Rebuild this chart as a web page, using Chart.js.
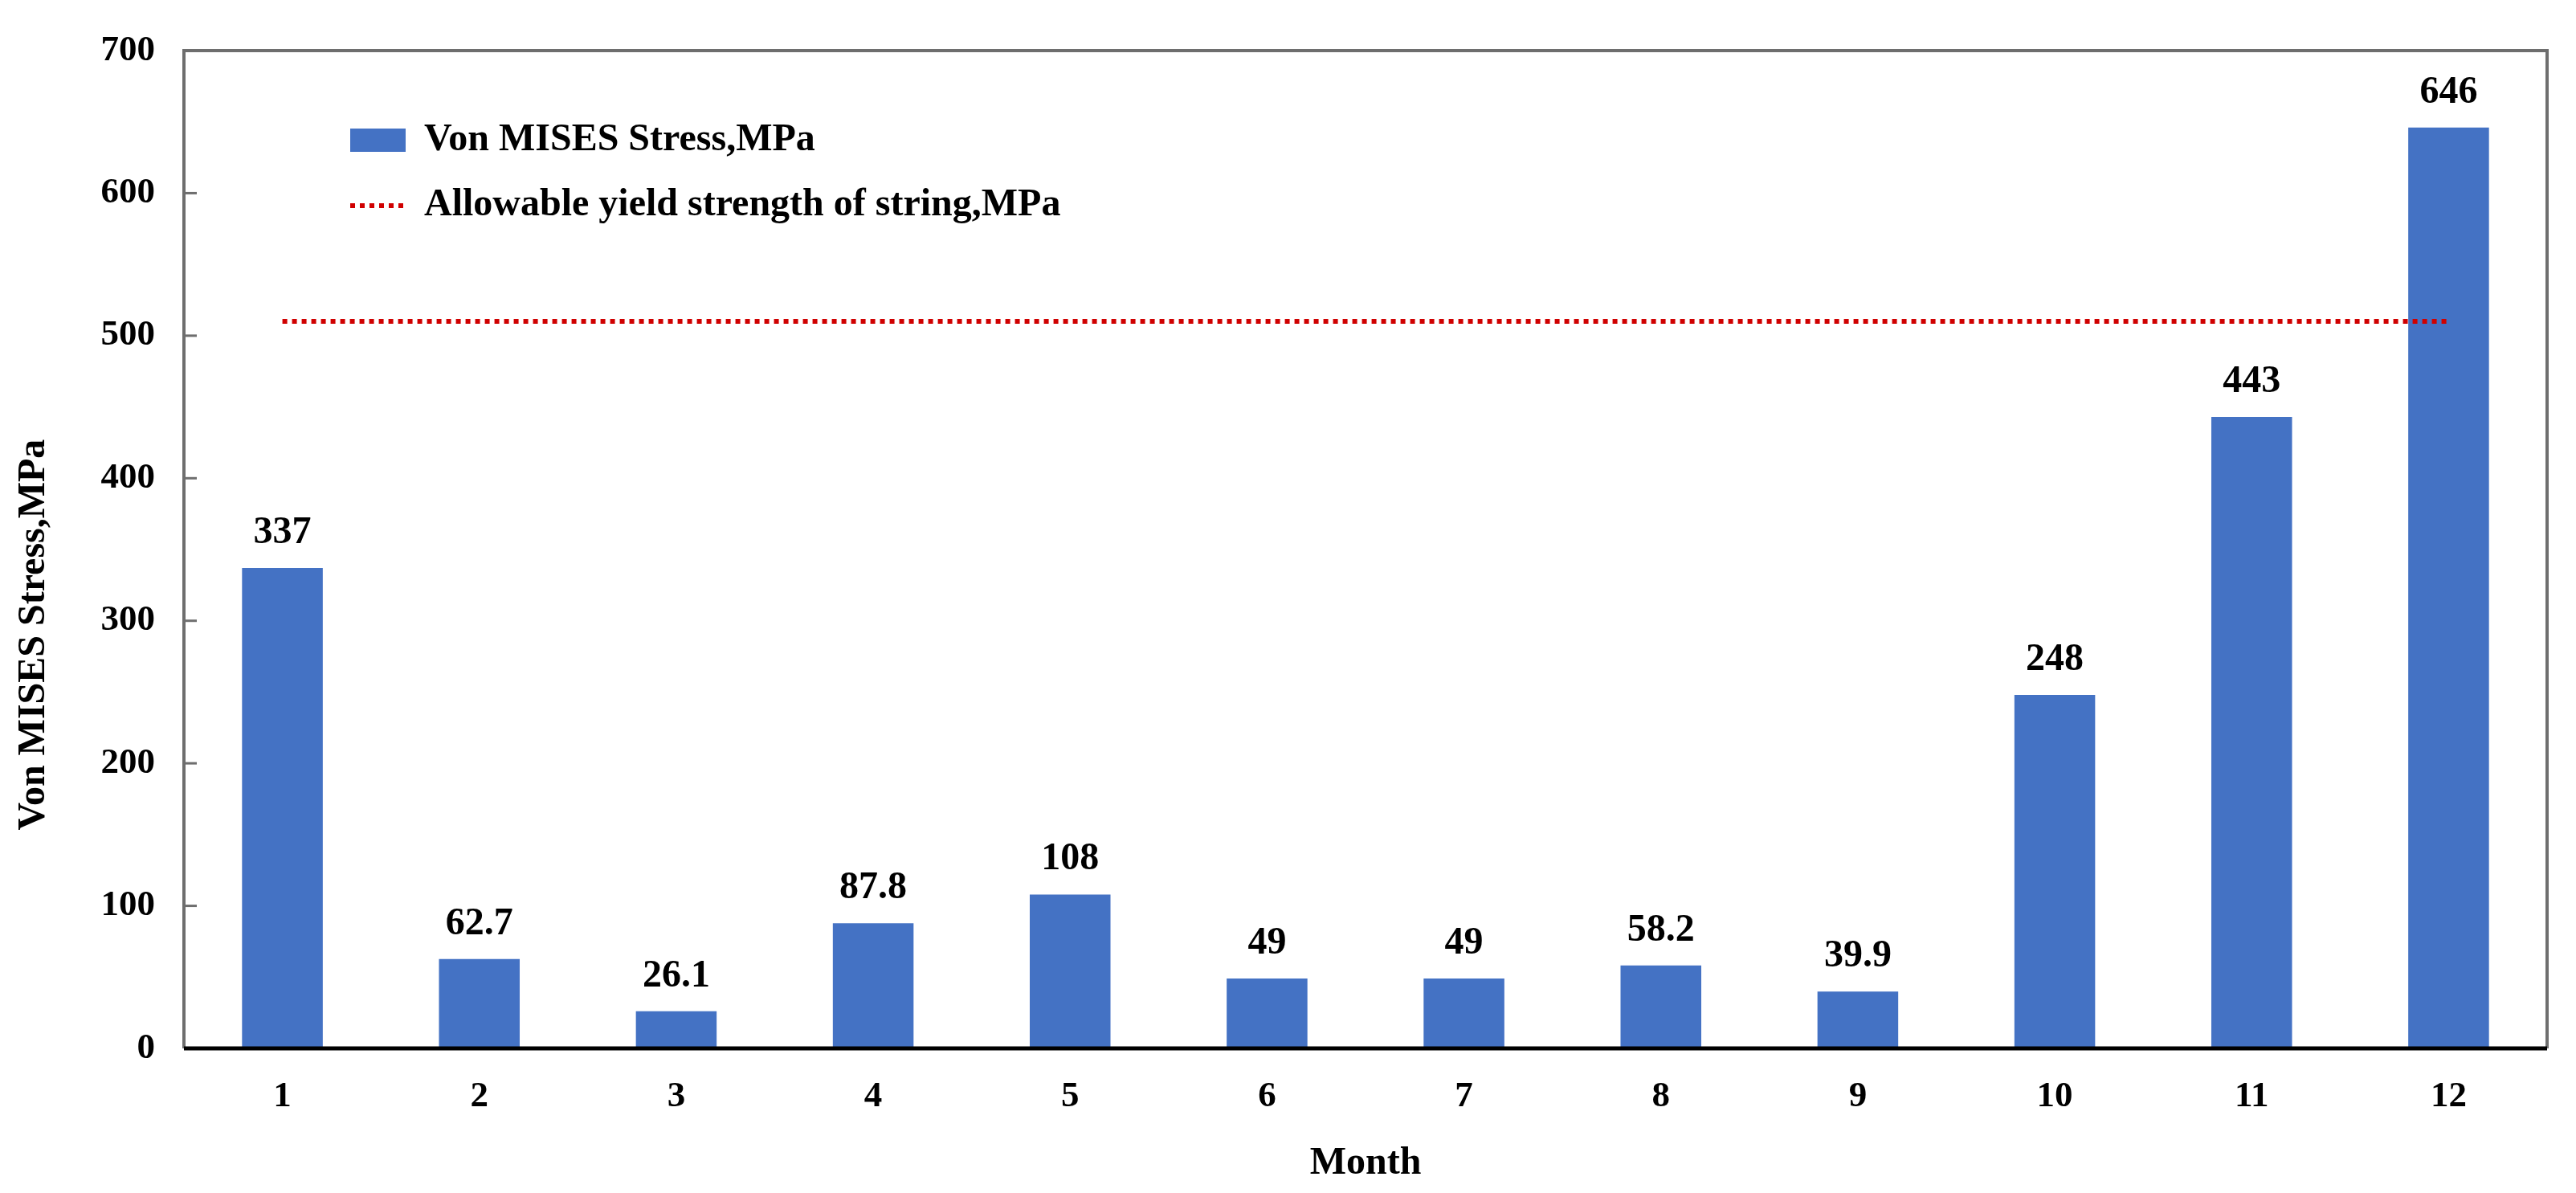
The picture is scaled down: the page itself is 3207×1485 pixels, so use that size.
<!DOCTYPE html>
<html lang="en">
<head>
    <meta charset="UTF-8">
    <title>Von MISES Stress by Month</title>
    <script src="https://cdn.jsdelivr.net/npm/chart.js"></script>
    <style>
        body {
            margin: 0;
            background: #fff;
        }
        #wrap {
            width: 3207px;
            height: 1485px;
            position: relative;
        }
    </style>
</head>
<body>
<div id="wrap"><canvas id="chart"></canvas></div>
<script>
    // data
    const months = ['1', '2', '3', '4', '5', '6', '7', '8', '9', '10', '11', '12'];
    const stress = [337, 62.7, 26.1, 87.8, 108, 49, 49, 58.2, 39.9, 248, 443, 646];
    const allowable = [510, 510, 510, 510, 510, 510, 510, 510, 510, 510, 510, 510];
    const yTicks = [0, 100, 200, 300, 400, 500, 600, 700];

    const FONT = '"Liberation Serif", "Times New Roman", serif';
    const BLUE = '#4472C4';
    const RED = '#D00000';

    // frame, inward ticks, bar values, legend and y title
    const extras = {
        id: 'extras',
        afterDatasetsDraw(chart) {
            const ctx = chart.ctx;
            const area = chart.chartArea;
            const y = chart.scales.y;

            ctx.save();
            // top/right/left frame in grey
            ctx.strokeStyle = '#6e6e6e';
            ctx.lineWidth = 4;
            ctx.beginPath();
            ctx.moveTo(area.left, area.bottom);
            ctx.lineTo(area.left, area.top);
            ctx.lineTo(area.right, area.top);
            ctx.lineTo(area.right, area.bottom);
            ctx.stroke();

            // inward tick marks on y axis
            ctx.lineWidth = 3;
            yTicks.forEach(v => {
                const py = y.getPixelForValue(v);
                ctx.beginPath();
                ctx.moveTo(area.left, py);
                ctx.lineTo(area.left + 16, py);
                ctx.stroke();
            });

            // bottom axis in black
            ctx.strokeStyle = '#000';
            ctx.lineWidth = 5;
            ctx.beginPath();
            ctx.moveTo(area.left, area.bottom);
            ctx.lineTo(area.right, area.bottom);
            ctx.stroke();

            // values above bars
            ctx.fillStyle = '#000';
            ctx.font = 'bold 48px ' + FONT;
            ctx.textAlign = 'center';
            ctx.textBaseline = 'alphabetic';
            const meta = chart.getDatasetMeta(0);
            meta.data.forEach((bar, i) => {
                ctx.fillText(String(stress[i]), bar.x, bar.y - 31);
            });

            // legend inside plot
            const lx = area.left + 207;
            ctx.fillStyle = BLUE;
            ctx.fillRect(lx, area.top + 97, 69, 29);
            ctx.strokeStyle = RED;
            ctx.lineWidth = 6;
            ctx.setLineDash([6, 6]);
            ctx.beginPath();
            ctx.moveTo(lx, area.top + 193);
            ctx.lineTo(lx + 69, area.top + 193);
            ctx.stroke();
            ctx.setLineDash([]);

            ctx.fillStyle = '#000';
            ctx.textAlign = 'left';
            ctx.textBaseline = 'middle';
            ctx.fillText(chart.data.datasets[0].label, lx + 92, area.top + 112);
            ctx.fillText(chart.data.datasets[1].label, lx + 92, area.top + 193);

            // y axis title
            ctx.translate(43, 790);
            ctx.rotate(-Math.PI / 2);
            ctx.textAlign = 'center';
            ctx.fillText('Von MISES Stress,MPa', 0, 0);
            ctx.restore();
        }
    };

    new Chart(document.getElementById('chart'), {
        type: 'bar',
        data: {
            labels: months,
            datasets: [
                {
                    type: 'bar',
                    label: 'Von MISES Stress,MPa',
                    data: stress,
                    backgroundColor: BLUE,
                    borderWidth: 0,
                    barPercentage: 0.41,
                    categoryPercentage: 1,
                    order: 2
                },
                {
                    type: 'line',
                    label: 'Allowable yield strength of string,MPa',
                    data: allowable,
                    borderColor: RED,
                    borderWidth: 6,
                    borderDash: [6, 6],
                    pointRadius: 0,
                    fill: false,
                    order: 1
                }
            ]
        },
        options: {
            responsive: true,
            maintainAspectRatio: false,
            animation: false,
            devicePixelRatio: 1,
            layout: {
                padding: { top: 61, right: 36, left: 0, bottom: 0 }
            },
            plugins: {
                legend: { display: false },
                tooltip: { enabled: false }
            },
            scales: {
                x: {
                    grid: { display: false, drawTicks: false },
                    border: { display: false },
                    ticks: {
                        color: '#000',
                        padding: 33,
                        font: { family: FONT, size: 45, weight: 'bold' }
                    },
                    title: {
                        display: true,
                        text: 'Month',
                        color: '#000',
                        padding: { top: 0, bottom: 8 },
                        font: { family: FONT, size: 48, weight: 'bold' }
                    },
                    afterFit(scale) { scale.height = 180; }
                },
                y: {
                    min: 0,
                    max: 700,
                    afterBuildTicks(scale) {
                        scale.ticks = yTicks.map(v => ({ value: v }));
                    },
                    grid: { display: false, drawTicks: false },
                    border: { display: false },
                    ticks: {
                        color: '#000',
                        padding: 36,
                        font: { family: FONT, size: 45, weight: 'bold' }
                    },
                    afterFit(scale) { scale.width = 229; }
                }
            }
        },
        plugins: [extras]
    });
</script>
</body>
</html>
